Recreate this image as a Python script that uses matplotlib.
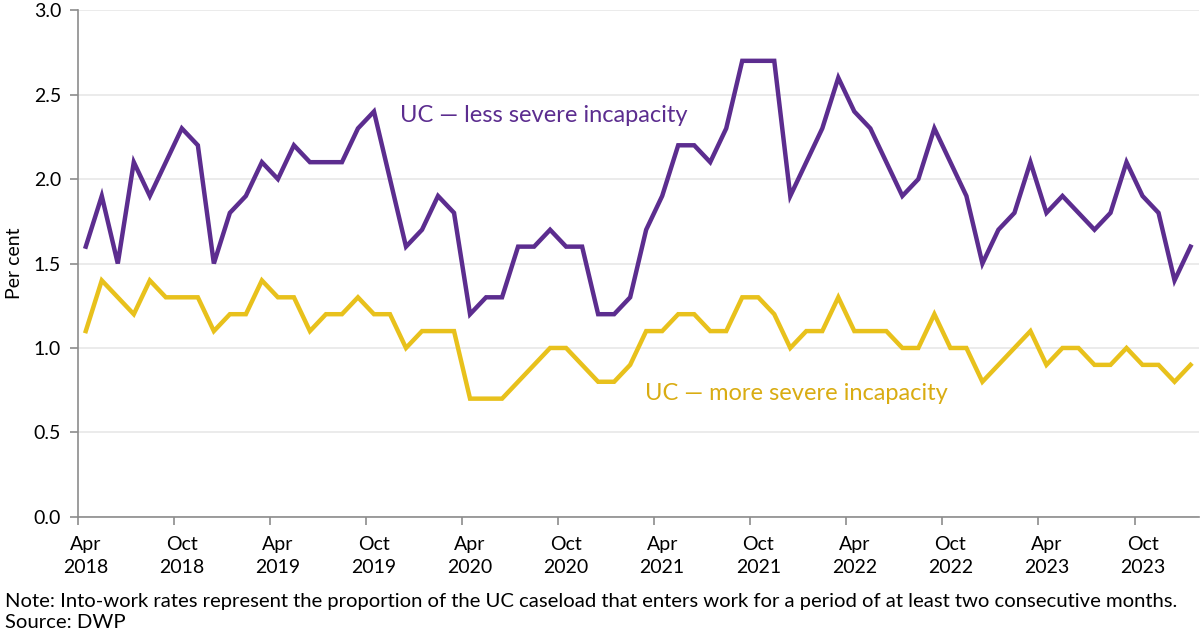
import matplotlib
matplotlib.use("Agg")
import matplotlib.pyplot as plt
import numpy as np

plt.rcParams['font.family'] = ['Lato', 'DejaVu Sans']

# monthly, Apr 2018 .. Jan 2024
less_severe = [1.6, 1.9, 1.5, 2.1, 1.9, 2.1, 2.3, 2.2, 1.5, 1.8, 1.9, 2.1,
               2.0, 2.2, 2.1, 2.1, 2.1, 2.3, 2.4, 2.0, 1.6, 1.7, 1.9, 1.8,
               1.2, 1.3, 1.3, 1.6, 1.6, 1.7, 1.6, 1.6, 1.2, 1.2, 1.3, 1.7,
               1.9, 2.2, 2.2, 2.1, 2.3, 2.7, 2.7, 2.7, 1.9, 2.1, 2.3, 2.6,
               2.4, 2.3, 2.1, 1.9, 2.0, 2.3, 2.1, 1.9, 1.5, 1.7, 1.8, 2.1,
               1.8, 1.9, 1.8, 1.7, 1.8, 2.1, 1.9, 1.8, 1.4, 1.6]
more_severe = [1.1, 1.4, 1.3, 1.2, 1.4, 1.3, 1.3, 1.3, 1.1, 1.2, 1.2, 1.4,
               1.3, 1.3, 1.1, 1.2, 1.2, 1.3, 1.2, 1.2, 1.0, 1.1, 1.1, 1.1,
               0.7, 0.7, 0.7, 0.8, 0.9, 1.0, 1.0, 0.9, 0.8, 0.8, 0.9, 1.1,
               1.1, 1.2, 1.2, 1.1, 1.1, 1.3, 1.3, 1.2, 1.0, 1.1, 1.1, 1.3,
               1.1, 1.1, 1.1, 1.0, 1.0, 1.2, 1.0, 1.0, 0.8, 0.9, 1.0, 1.1,
               0.9, 1.0, 1.0, 0.9, 0.9, 1.0, 0.9, 0.9, 0.8, 0.9]
tick_labels = ['Apr\n2018', 'Oct\n2018', 'Apr\n2019', 'Oct\n2019', 'Apr\n2020', 'Oct\n2020',
               'Apr\n2021', 'Oct\n2021', 'Apr\n2022', 'Oct\n2022', 'Apr\n2023', 'Oct\n2023']

purple = '#5c2d8f'
yellow = '#e8c11c'
axis_grey = '#8c8c8c'

x = np.arange(len(less_severe))

fig = plt.figure(figsize=(12, 6.35), dpi=100)
ax = fig.add_axes([0.0648, 0.186, 0.934, 0.798])

ax.plot(x, less_severe, color=purple, lw=3.2, solid_joinstyle='miter')
ax.plot(x, more_severe, color=yellow, lw=3.2, solid_joinstyle='miter')

ax.set_xlim(-0.5, len(x) - 0.5)
ax.set_ylim(0, 3.0)
ax.set_yticks(np.arange(0, 3.01, 0.5))
ax.set_yticklabels(['%.1f' % v for v in np.arange(0, 3.01, 0.5)])
ax.yaxis.grid(True, color='#e8e8e8', lw=1.2)
ax.set_axisbelow(True)

ax.set_xticks(np.arange(0, len(x), 6))
ax.set_xticklabels(tick_labels, linespacing=1.4)
ax.set_xticks(np.arange(-0.5, len(x), 6), minor=True)
ax.tick_params(axis='x', which='major', length=0, pad=14, labelsize=14, colors='black')
ax.tick_params(axis='x', which='minor', length=6, color=axis_grey, width=1.2)
ax.tick_params(axis='y', length=6, color=axis_grey, width=1.2, labelsize=14, pad=6)

for s in ['top', 'right']:
    ax.spines[s].set_visible(False)
for s in ['left', 'bottom']:
    ax.spines[s].set_color(axis_grey)
    ax.spines[s].set_linewidth(1.2)

ax.set_ylabel('Per cent', fontsize=14, labelpad=8)

fig.text(400 / 1200, 1 - 115 / 635, 'UC \u2014 less severe incapacity', color=purple,
         fontsize=17, va='center', ha='left')
fig.text(645 / 1200, 1 - 393 / 635, 'UC \u2014 more severe incapacity', color='#d9ac12',
         fontsize=17, va='center', ha='left')

fig.text(0.004, 1 - 602 / 635, 'Note: Into-work rates represent the proportion of the UC caseload that enters work for a period of at least two consecutive months.',
         fontsize=14.6, va='center', ha='left')
fig.text(0.004, 1 - 623 / 635, 'Source: DWP', fontsize=14.6, va='center', ha='left')

fig.savefig('out.png', dpi=100)
